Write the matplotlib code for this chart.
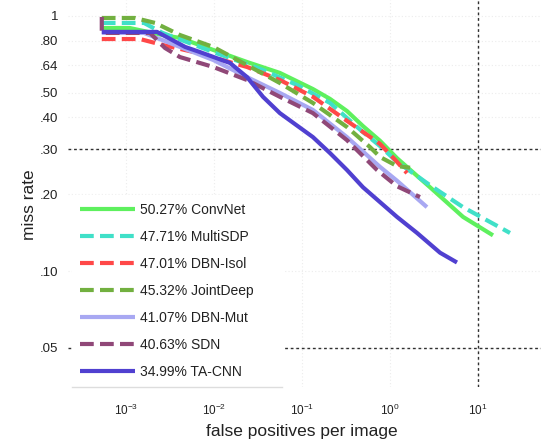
import matplotlib
matplotlib.use("Agg")
import matplotlib.pyplot as plt
from matplotlib.lines import Line2D

plt.rcParams['font.family'] = ['Liberation Sans', 'DejaVu Sans']
plt.rcParams['mathtext.default'] = 'regular'

# ---- data ----
labels = ["50.27% ConvNet", "47.71% MultiSDP", "47.01% DBN-Isol", "45.32% JointDeep",
          "41.07% DBN-Mut", "40.63% SDN", "34.99% TA-CNN"]
colors = ["#5ef05e", "#40e0c8", "#ff4848", "#72b040", "#a8a8f2", "#904878", "#5040d0"]
dashed = [False, True, True, True, False, True, False]

convnet_fppi = [5.3e-4, 1.1e-3, 2.6e-3, 4.1e-3, 9.8e-3, 0.0237, 0.056, 0.133, 0.208, 0.324,
                0.493, 0.77, 1.2, 2.85, 6.76, 14.8]
convnet_mr = [0.897, 0.897, 0.842, 0.82, 0.736, 0.660, 0.598, 0.517, 0.473, 0.424,
              0.370, 0.324, 0.277, 0.213, 0.163, 0.138]

multisdp_fppi = [5.3e-4, 1.6e-3, 2.6e-3, 9.8e-3, 0.036, 0.088, 0.208, 0.49, 0.77, 1.2,
                 2.85, 6.76, 23.1]
multisdp_mr = [0.939, 0.939, 0.858, 0.722, 0.614, 0.536, 0.456, 0.351, 0.309, 0.268,
               0.217, 0.178, 0.141]

dbnisol_fppi = [5.3e-4, 1.44e-3, 2.6e-3, 6.1e-3, 0.0237, 0.056, 0.133, 0.324, 0.493, 0.77,
                1.2, 1.56]
dbnisol_mr = [0.812, 0.812, 0.77, 0.72, 0.631, 0.561, 0.482, 0.388, 0.351, 0.315,
              0.268, 0.242]

jointdeep_fppi = [5.3e-4, 1.26e-3, 2.14e-3, 4.1e-3, 9.8e-3, 0.0237, 0.056, 0.133, 0.324,
                  0.593, 0.77, 1.2, 1.69]
jointdeep_mr = [0.982, 0.982, 0.939, 0.842, 0.756, 0.642, 0.546, 0.456, 0.367,
                0.306, 0.280, 0.258, 0.254]

dbnmut_fppi = [5.3e-4, 1.6e-3, 4.1e-3, 9.8e-3, 0.0237, 0.056, 0.133, 0.324, 0.77, 1.2, 2.63]
dbnmut_mr = [0.858, 0.858, 0.756, 0.672, 0.576, 0.499, 0.428, 0.335, 0.256, 0.226, 0.178]

sdn_fppi = [5.3e-4, 5.3e-4, 1.87e-3, 2.77e-3, 4.1e-3, 9.8e-3, 0.0237, 0.056, 0.133, 0.324,
            0.711, 1.2, 2.19]
sdn_mr = [0.991, 0.858, 0.858, 0.749, 0.690, 0.631, 0.561, 0.482, 0.416, 0.326,
          0.249, 0.215, 0.195]

tacnn_fppi = [5.3e-4, 2.25e-3, 4.7e-3, 6.9e-3, 0.0152, 0.0237, 0.036, 0.056, 0.133, 0.208,
              0.324, 0.493, 1.2, 2.03, 3.7, 5.77]
tacnn_mr = [0.866, 0.866, 0.756, 0.722, 0.654, 0.576, 0.482, 0.416, 0.335, 0.290,
            0.249, 0.213, 0.163, 0.141, 0.118, 0.108]

series_fppi = [convnet_fppi, multisdp_fppi, dbnisol_fppi, jointdeep_fppi, dbnmut_fppi, sdn_fppi, tacnn_fppi]
series_mr = [convnet_mr, multisdp_mr, dbnisol_mr, jointdeep_mr, dbnmut_mr, sdn_mr, tacnn_mr]

ytick_vals = [0.05, 0.10, 0.20, 0.30, 0.40, 0.50, 0.64, 0.80, 1.0]
ytick_labels = [".05", ".10", ".20", ".30", ".40", ".50", ".64", ".80", "1"]
xtick_vals = [1e-3, 1e-2, 1e-1, 1e0, 1e1]
xtick_labels = ["$10^{-3}$", "$10^{-2}$", "$10^{-1}$", "$10^{0}$", "$10^{1}$"]
ref_mr = [0.30, 0.05]
ref_fppi = 10.0

# ---- figure ----
W, H = 541, 440
fig = plt.figure(figsize=(W / 100, H / 100), dpi=100)
ax = fig.add_axes([68 / W, 1 - 387 / H, 1 - 68 / W, 387 / H])
ax.set_xscale('log')
ax.set_yscale('log')
ax.set_xlim(2.19e-4, 52)
ax.set_ylim(0.0351, 1.155)

for sp in ax.spines.values():
    sp.set_visible(False)

ax.set_yticks(ytick_vals)
ax.set_yticklabels(ytick_labels)
ax.set_xticks(xtick_vals)
ax.set_xticklabels(xtick_labels)
ax.minorticks_off()
ax.tick_params(axis='y', length=0, pad=7, labelsize=9.5, colors='#222222')
ax.tick_params(axis='x', length=0, pad=11.5, labelsize=8.5, colors='#222222')
ax.grid(True, which='major', color='#ececec', linestyle=(0, (1, 2)), linewidth=0.8)
ax.set_axisbelow(True)

lw = 3.0
handles = []
for fp, mr, c, d, lab in zip(series_fppi, series_mr, colors, dashed, labels):
    if d:
        ln, = ax.plot(fp, mr, color=c, lw=lw, linestyle=(0, (3.3, 1.5)), label=lab,
                      solid_joinstyle='round', dash_joinstyle='round')
    else:
        ln, = ax.plot(fp, mr, color=c, lw=lw, linestyle='-', label=lab,
                      solid_joinstyle='round', solid_capstyle='butt')
    handles.append(ln)

for m in ref_mr:
    ax.axhline(m, color='#303030', lw=1.0, linestyle=(0, (2, 2)), zorder=1.5)
ax.axvline(ref_fppi, color='#303030', lw=1.0, linestyle=(0, (2, 2)), zorder=1.5)

leg = fig.legend(handles=handles, loc='lower left', mode='expand',
                 bbox_to_anchor=(72 / W, 1 - 387 / H, 210 / W, 0.0), borderaxespad=0,
                 fontsize=10, handlelength=3.9, handletextpad=0.4,
                 labelspacing=0.93, frameon=True, fancybox=False,
                 borderpad=0.6)
leg.get_frame().set_facecolor('white')
leg.get_frame().set_edgecolor('white')
leg.get_frame().set_alpha(1.0)
for t in leg.get_texts():
    t.set_color('#222222')

fig.add_artist(Line2D([72 / W, 282 / W], [1 - 387 / H, 1 - 387 / H],
                      color='#dddddd', lw=1.0, transform=fig.transFigure, zorder=10))

fig.text(302 / W, 1 - 431 / H, "false positives per image", ha='center', va='center',
         fontsize=12.5, color='#222222')
fig.text(30 / W, 1 - 205 / H, "miss rate", ha='center', va='center', rotation=90,
         fontsize=12.5, color='#222222')

fig.savefig("out.png", dpi=100)
